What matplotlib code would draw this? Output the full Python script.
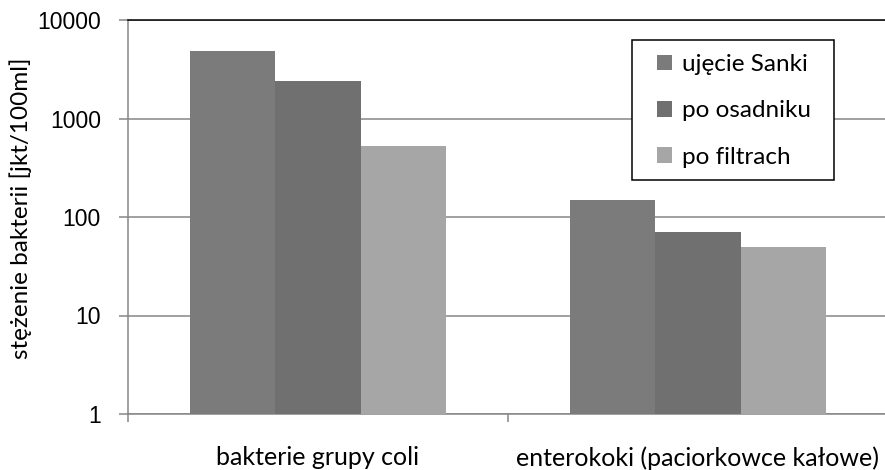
import numpy as np
import matplotlib
matplotlib.use("Agg")
import matplotlib.pyplot as plt
from matplotlib.patches import Rectangle
from matplotlib.ticker import FixedLocator, NullFormatter

# dane z wykresu
kategorie = ["bakterie grupy coli", "enterokoki (paciorkowce kałowe)"]
serie = ["ujęcie Sanki", "po osadniku", "po filtrach"]
ujecie_sanki = [4800, 150]
po_osadniku = [2400, 70]
po_filtrach = [520, 50]
kolory = ["#7b7b7b", "#707070", "#a6a6a6"]
y_ticki = [1, 10, 100, 1000, 10000]

plt.rcParams['font.family'] = ['Lato', 'DejaVu Sans']

fig = plt.figure(figsize=(8.85, 4.70), dpi=100)
ax = fig.add_axes([128/885, 1 - 414/470, 760/885, 394/470])

x = np.arange(len(kategorie))
w = 0.2237
for i, (vals, kol, nazwa) in enumerate(zip([ujecie_sanki, po_osadniku, po_filtrach], kolory, serie)):
    ax.bar(x + (i - 1) * w, vals, width=w, color=kol, label=nazwa, zorder=3)

ax.set_yscale('log')
ax.set_ylim(1, 10000)
ax.set_xlim(-0.5, 1.5)
ax.yaxis.set_major_locator(FixedLocator(y_ticki))
ax.set_yticklabels([str(t) for t in y_ticki], family=['Liberation Sans'])
ax.yaxis.set_minor_locator(FixedLocator([]))
ax.grid(axis='y', which='major', color='#868686', linewidth=1.1, zorder=0)

ax.set_xticks(x)
ax.set_xticklabels(kategorie, fontsize=18)
ax.set_xticks([-0.5, 0.5, 1.5], minor=True)
ax.xaxis.set_minor_formatter(NullFormatter())
ax.tick_params(axis='x', which='major', length=0, pad=23)
ax.tick_params(axis='x', which='minor', length=6, width=1.1, color='#868686')
ax.tick_params(axis='y', which='major', length=6.5, width=1.1, color='#868686',
               labelsize=16.5, pad=13)

for s in ['left', 'bottom']:
    ax.spines[s].set_color('#868686')
    ax.spines[s].set_linewidth(1.1)
ax.spines['right'].set_visible(False)
ax.spines['top'].set_color('black')
ax.spines['top'].set_linewidth(1.1)

ax.set_ylabel('stężenie bakterii [jkt/100ml]', fontsize=17.5)
ax.yaxis.set_label_coords(-96/760, 0.523)

# legenda: ramka rysowana osobno
ramka = Rectangle((632/885, 1 - 180/470), 202/885, 140/470,
                  transform=fig.transFigure, facecolor='white',
                  edgecolor='black', linewidth=1.1, zorder=5, clip_on=False)
ax.add_patch(ramka)
leg = ax.legend(loc='upper left', bbox_to_anchor=(657/885, 1 - 54/470),
                bbox_transform=fig.transFigure, borderaxespad=0, borderpad=0,
                fontsize=17.5, handlelength=0.62, handleheight=0.62, handletextpad=0.4,
                labelspacing=1.04, frameon=False)
leg.set_zorder(6)

fig.savefig("out.png", dpi=100)
